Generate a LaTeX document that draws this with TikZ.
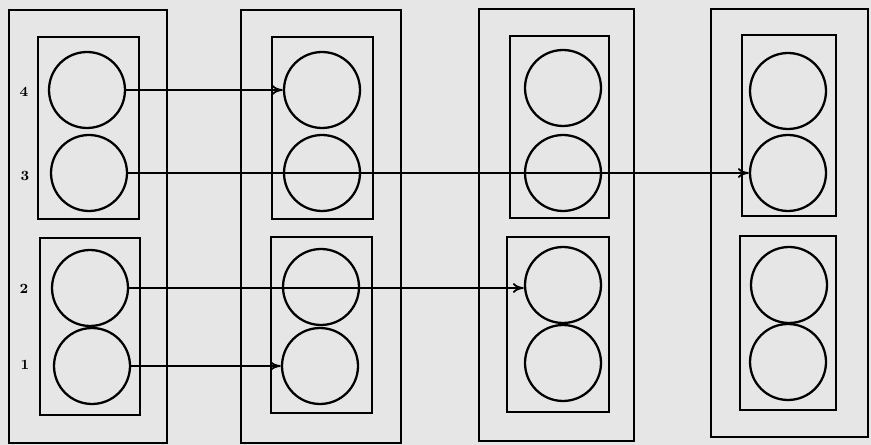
\documentclass[tikz,border=0pt]{standalone}
\usetikzlibrary{arrows.meta}
\definecolor{paper}{RGB}{230,230,230}
\begin{document}
\begin{tikzpicture}[
        x=0.02cm, y=-0.02cm,
        cell/.style={circle, draw, line width=1.3pt, minimum size=1.52cm, inner sep=0pt},
        frame/.style={draw, line width=1.3pt},
        link/.style={-{To[length=2.2mm, width=2mm]}, line width=1pt},
        every node/.style={font=\footnotesize\bfseries}
        ]
      \fill[paper] (0,0) rectangle (871,445);
      \useasboundingbox (0,0) rectangle (871,445);
      % outer frames
      \draw[frame] (9,10) rectangle (167,443);
      \draw[frame] (241,10) rectangle (401,443);
      \draw[frame] (479,9) rectangle (634,441);
      \draw[frame] (711,9) rectangle (868,437);
      % inner frames
      \draw[frame] (38,37) rectangle (139,219);
      \draw[frame] (40,238) rectangle (140,415);
      \draw[frame] (272,37) rectangle (373,219);
      \draw[frame] (271,237) rectangle (372,413);
      \draw[frame] (510,36) rectangle (609,218);
      \draw[frame] (507,237) rectangle (609,412);
      \draw[frame] (742,35) rectangle (836,216);
      \draw[frame] (740,236) rectangle (836,410);
      % cells
      \node[cell] (a4) at (87,90) {};
      \node[cell] (a3) at (89,173) {};
      \node[cell] (a2) at (90,288) {};
      \node[cell] (a1) at (92,366) {};
      \node[cell] (b4) at (322,90) {};
      \node[cell] (b3) at (322,173) {};
      \node[cell] (b2) at (321,287) {};
      \node[cell] (b1) at (320,366) {};
      \node[cell] (c4) at (563,88) {};
      \node[cell] (c3) at (563,173) {};
      \node[cell] (c2) at (563,285) {};
      \node[cell] (c1) at (563,363) {};
      \node[cell] (d4) at (788,91) {};
      \node[cell] (d3) at (788,173) {};
      \node[cell] (d2) at (789,285) {};
      \node[cell] (d1) at (788,362) {};
      % row labels
      \node (l4) at (24,92) {4};
      \node (l3) at (25,176) {3};
      \node (l2) at (24,289) {2};
      \node (l1) at (25,365) {1};
      \draw[link] (a4.east) -- (a4.east -| b4.west);
      \draw[link] (a3.east) -- (a3.east -| d3.west);
      \draw[link] (a2.east) -- (a2.east -| c2.west);
      \draw[link] (a1.east) -- (a1.east -| b1.west);
    \end{tikzpicture}
\end{document}
